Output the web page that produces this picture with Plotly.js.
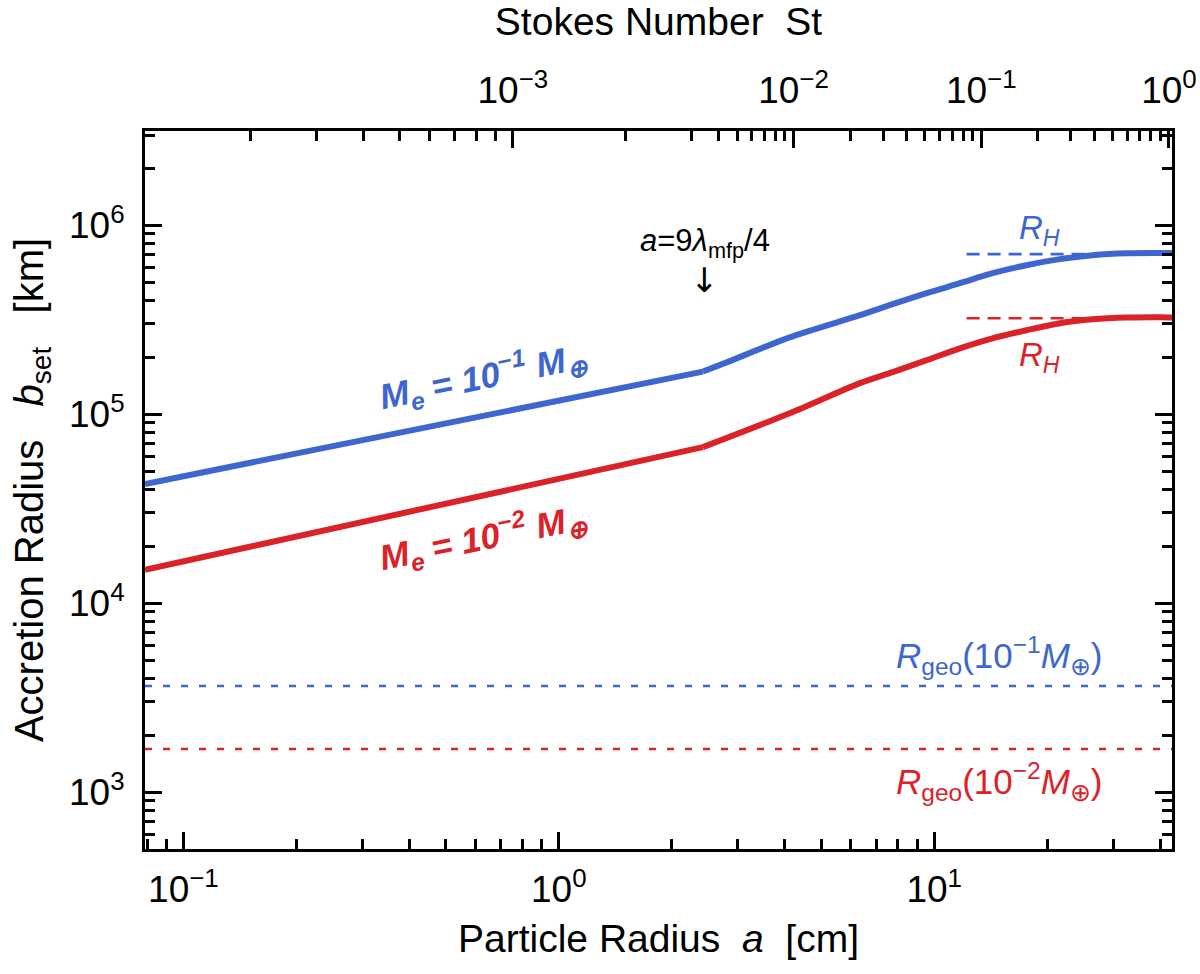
<!DOCTYPE html>
<html>
<head>
<meta charset="utf-8">
<script src="https://cdn.plot.ly/plotly-3.0.1.min.js"></script>
<style>
  body { margin: 0; background: #fff; }
  #chart { width: 1200px; height: 974px; }
</style>
</head>
<body>
<div id="chart"></div>
<script>
/* data */
// particle radius a [cm] and accretion radius b_set [km]
// first three points: straight (Epstein) part up to the kink, rest: curved part
var aBlue = [0.079, 1.0, 2.42, 2.8, 4.12, 6.34, 7.75, 9.55, 11.7, 14.3, 17.6, 21.6, 26.4, 32.6, 39.9, 43];
var bBlue = [4.27e4, 1.19e5, 1.68e5, 1.88e5, 2.55e5, 3.34e5, 3.82e5, 4.37e5, 4.93e5, 5.57e5, 6.14e5, 6.61e5, 6.94e5, 7.11e5, 7.13e5, 7.12e5];
var aRed = [0.079, 1.0, 2.42, 4.12, 6.34, 7.75, 9.55, 11.7, 14.3, 17.6, 21.6, 26.4, 32.6, 39.9, 43];
var bRed = [1.50e4, 4.6e4, 6.69e4, 1.01e5, 1.46e5, 1.67e5, 1.93e5, 2.23e5, 2.52e5, 2.78e5, 3.03e5, 3.18e5, 3.25e5, 3.26e5, 3.25e5];
var kinkIndex = 2;

// Hill radius and geometric radius levels
var hillA = [12.2, 43];
var hillBlue = 7.03e5;
var hillRed = 3.22e5;
var geoA = [0.079, 43];
var geoBlue = 3.64e3;
var geoRed = 1.69e3;

// axis ticks
var aTicks = [0.1, 1, 10];
var aTickText = ['10<sup>\u22121</sup>', '10<sup>0</sup>', '10<sup>1</sup>'];
var bTicks = [1e3, 1e4, 1e5, 1e6];
var bTickText = ['10<sup>3</sup>', '10<sup>4</sup>', '10<sup>5</sup>', '10<sup>6</sup>'];
var stTicks = [1e-3, 1e-2, 1e-1, 1];
var stTickText = ['10<sup>\u22123</sup>', '10<sup>\u22122</sup>', '10<sup>\u22121</sup>', '10<sup>0</sup>'];

// St(a): Epstein (St ~ a) below the kink, Stokes (St ~ a^2) above
var stPerCm = 1.326e-3;
var aAtSt1 = 42.2;
var aKink = aAtSt1 * aAtSt1 * stPerCm;

var blue = '#3d66cf';
var red = '#db2229';
var font = 'Liberation Sans, Arial, Helvetica, sans-serif';
var sp = '\u00a0\u00a0';

function aOfSt(st) {
    var a = st / stPerCm;
    if (a > aKink) a = aAtSt1 * Math.sqrt(st);
    return a;
}
function minorLog(lo, hi) { // 2..9 x 10^k inside [lo, hi]
    var out = [];
    for (var k = -5; k <= 7; k++) {
        for (var m = 2; m <= 9; m++) {
            var v = m * Math.pow(10, k);
            if (v > lo && v < hi) out.push(v);
        }
    }
    return out;
}

var xr = [Math.log10(0.079), Math.log10(43)];
var yr = [Math.log10(500), Math.log10(3.15e6)];

var stMinorA = minorLog(1e-5, 1).map(aOfSt);
var stTickA = stTicks.map(aOfSt);

function curve(a, b, color) { // straight part + smooth part, sharing the kink point
    return [
        {x: a.slice(0, kinkIndex + 1), y: b.slice(0, kinkIndex + 1), mode: 'lines', type: 'scatter',
         line: {color: color, width: 6}},
        {x: a.slice(kinkIndex), y: b.slice(kinkIndex), mode: 'lines', type: 'scatter',
         line: {color: color, width: 6, shape: 'spline', smoothing: 0.8}}
    ];
}

var traces = [].concat(
    curve(aBlue, bBlue, blue),
    curve(aRed, bRed, red),
    [
        {x: hillA, y: [hillBlue, hillBlue], mode: 'lines', type: 'scatter', line: {color: blue, width: 2.6, dash: '13px,8px'}},
        {x: hillA, y: [hillRed, hillRed], mode: 'lines', type: 'scatter', line: {color: red, width: 2.6, dash: '13px,8px'}},
        {x: geoA, y: [geoBlue, geoBlue], mode: 'lines', type: 'scatter', line: {color: blue, width: 2.6, dash: '7px,11px'}},
        {x: geoA, y: [geoRed, geoRed], mode: 'lines', type: 'scatter', line: {color: red, width: 2.6, dash: '7px,11px'}},
        // carrier for the top (Stokes number) axis
        {x: geoA, y: [geoRed, geoRed], xaxis: 'x2', mode: 'lines', type: 'scatter',
         line: {width: 0, color: 'rgba(0,0,0,0)'}, hoverinfo: 'skip'}
    ]
);

var axisCommon = {
    type: 'log',
    showgrid: false,
    zeroline: false,
    showline: true,
    linecolor: '#000',
    linewidth: 3,
    ticks: 'inside',
    ticklen: 17,
    tickwidth: 2.5,
    tickcolor: '#000',
    tickmode: 'array',
    tickfont: {family: font, size: 37, color: '#000'}
};
var minorCommon = {tickmode: 'array', ticks: 'inside', ticklen: 10, tickwidth: 2.5, tickcolor: '#000'};

var layout = {
    width: 1200,
    height: 974,
    showlegend: false,
    paper_bgcolor: '#fff',
    plot_bgcolor: '#fff',
    margin: {l: 145, r: 28, t: 131, b: 125},
    font: {family: font, color: '#000'},
    xaxis: Object.assign({}, axisCommon, {
        range: xr,
        autorange: false,
        tickvals: aTicks,
        ticktext: aTickText,
        ticklabelstandoff: 6,
        minor: Object.assign({tickvals: minorLog(0.01, 100)}, minorCommon),
        title: {text: 'Particle Radius' + sp + '<i>a</i>' + sp + '[cm]', font: {family: font, size: 39}, standoff: 16}
    }),
    xaxis2: Object.assign({}, axisCommon, {
        overlaying: 'x',
        side: 'top',
        anchor: 'y',
        range: xr,
        autorange: false,
        tickvals: stTickA,
        ticktext: stTickText,
        ticklabelstandoff: 10,
        minor: Object.assign({tickvals: stMinorA}, minorCommon),
        title: {text: 'Stokes Number' + sp + 'St', font: {family: font, size: 39}, standoff: 18}
    }),
    yaxis: Object.assign({}, axisCommon, {
        range: yr,
        autorange: false,
        mirror: 'ticks',
        tickvals: bTicks,
        ticktext: bTickText,
        ticklabelstandoff: 10,
        minor: Object.assign({tickvals: minorLog(100, 1e7)}, minorCommon),
        title: {text: 'Accretion Radius' + sp + '\u00a0<i>b</i><sub>set</sub>' + sp + '\u00a0[km]', font: {family: font, size: 40}, standoff: 14}
    }),
    annotations: [
        {x: Math.log10(2.45), y: 5.905, xref: 'x', yref: 'y', showarrow: false,
         text: '<i>a</i>=9<i>\u03bb</i><sub>mfp</sub>/4', font: {family: font, size: 31, color: '#000'}},
        {x: Math.log10(2.45), y: 5.71, xref: 'x', yref: 'y', showarrow: false,
         text: '\u2193', font: {family: 'DejaVu Sans, sans-serif', size: 34, color: '#000'}},
        {x: 1.281, y: 5.974, xref: 'x', yref: 'y', showarrow: false,
         text: '<i>R<sub>H</sub></i>', font: {family: font, size: 33, color: blue}},
        {x: 1.281, y: 5.302, xref: 'x', yref: 'y', showarrow: false,
         text: '<i>R<sub>H</sub></i>', font: {family: font, size: 33, color: red}},
        {x: -0.202, y: 5.201, xref: 'x', yref: 'y', showarrow: false, textangle: -11.5,
         text: '<b><i>M<sub>e</sub> = 10<sup>\u22121</sup> M<sub>\u2295</sub></i></b>', font: {family: font, size: 35, color: blue}},
        {x: -0.202, y: 4.349, xref: 'x', yref: 'y', showarrow: false, textangle: -11.5,
         text: '<b><i>M<sub>e</sub> = 10<sup>\u22122</sup> M<sub>\u2295</sub></i></b>', font: {family: font, size: 35, color: red}},
        {x: 1.174, y: 3.725, xref: 'x', yref: 'y', showarrow: false,
         text: '<i>R</i><sub>geo</sub>(10<sup>\u22121</sup><i>M</i><sub>\u2295</sub>)', font: {family: font, size: 35, color: blue}},
        {x: 1.174, y: 3.055, xref: 'x', yref: 'y', showarrow: false,
         text: '<i>R</i><sub>geo</sub>(10<sup>\u22122</sup><i>M</i><sub>\u2295</sub>)', font: {family: font, size: 35, color: red}}
    ]
};

Plotly.newPlot('chart', traces, layout, {displayModeBar: false, responsive: false});
</script>
</body>
</html>
